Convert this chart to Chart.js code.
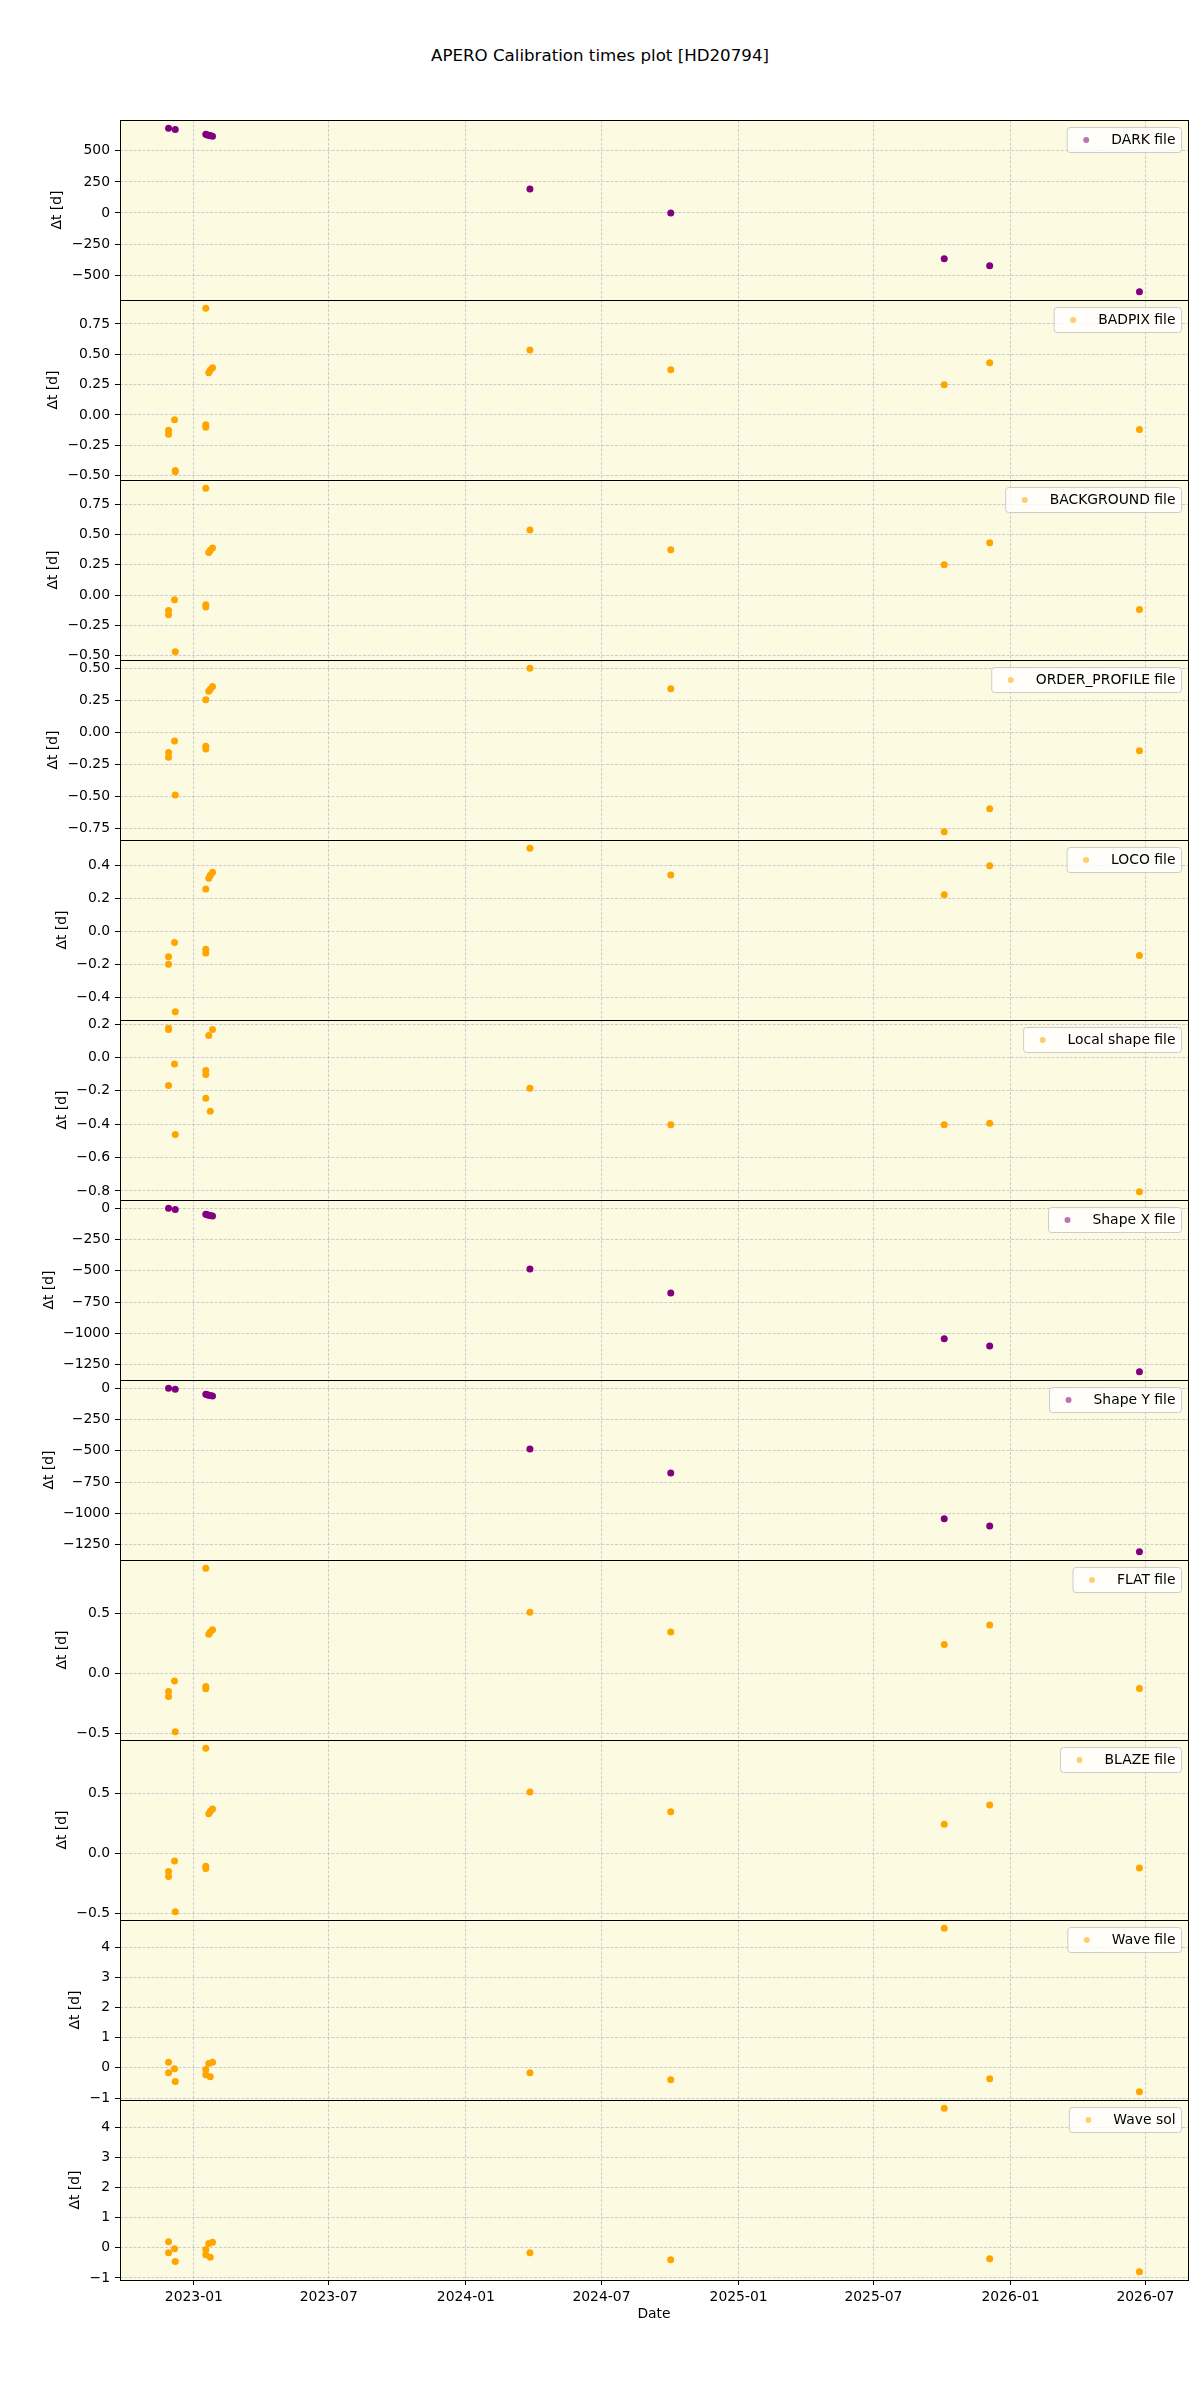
<!DOCTYPE html>
<html>
<head>
<meta charset="utf-8">
<title>APERO Calibration times plot [HD20794]</title>
<script src="https://cdn.jsdelivr.net/npm/chart.js@4.4.0/dist/chart.umd.min.js"></script>
<style>
  html, body { margin: 0; padding: 0; background: #fff; }
  #page { position: relative; width: 1200px; height: 2400px; font-family: "DejaVu Sans", sans-serif; }
  #title { position: absolute; left: 0; top: 46px; width: 1200px; text-align: center;
           font-size: 16.67px; line-height: 20px; color: #000; }
  canvas { position: absolute; left: 0; }
</style>
</head>
<body>
<div id="page">
  <div id="title">APERO Calibration times plot [HD20794]</div>
</div>
<script>
// date ticks shared by every panel
const xTickLabels = ["2023-01", "2023-07", "2024-01", "2024-07", "2025-01", "2025-07", "2026-01", "2026-07"];

// [date, delta t in days]
const darkFile = [
  ["2022-11-28", 682], ["2022-12-07", 671], ["2023-01-17", 634], ["2023-01-19", 628],
  ["2023-01-21", 626], ["2023-01-23", 623], ["2023-01-26", 618], ["2024-03-27", 192],
  ["2024-10-02", 0], ["2025-10-04", -369], ["2025-12-04", -425], ["2026-06-23", -634]
];
const badpixFile = [
  ["2022-11-28", -0.127], ["2022-11-28", -0.160], ["2022-12-06", -0.039], ["2022-12-07", -0.458],
  ["2022-12-07", -0.469], ["2023-01-17", 0.880], ["2023-01-17", -0.080], ["2023-01-17", -0.102],
  ["2023-01-21", 0.348], ["2023-01-23", 0.370], ["2023-01-26", 0.389], ["2024-03-27", 0.535],
  ["2024-10-02", 0.372], ["2025-10-04", 0.248], ["2025-12-04", 0.430], ["2026-06-23", -0.121]
];
const backgroundFile = [
  ["2022-11-28", -0.127], ["2022-11-28", -0.163], ["2022-12-06", -0.039], ["2022-12-07", -0.468],
  ["2023-01-17", 0.881], ["2023-01-17", -0.080], ["2023-01-17", -0.099], ["2023-01-21", 0.351],
  ["2023-01-23", 0.370], ["2023-01-26", 0.387], ["2024-03-27", 0.536], ["2024-10-02", 0.373],
  ["2025-10-04", 0.249], ["2025-12-04", 0.431], ["2026-06-23", -0.119]
];
const orderProfileFile = [
  ["2022-11-28", -0.154], ["2022-11-28", -0.191], ["2022-12-06", -0.065], ["2022-12-07", -0.486],
  ["2023-01-17", 0.259], ["2023-01-17", -0.105], ["2023-01-17", -0.126], ["2023-01-21", 0.324],
  ["2023-01-23", 0.340], ["2023-01-26", 0.361], ["2024-03-27", 0.505], ["2024-10-02", 0.345],
  ["2025-10-04", -0.774], ["2025-12-04", -0.594], ["2026-06-23", -0.141]
];
const locoFile = [
  ["2022-11-28", -0.152], ["2022-11-28", -0.197], ["2022-12-06", -0.066], ["2022-12-07", -0.486],
  ["2023-01-17", 0.260], ["2023-01-17", -0.107], ["2023-01-17", -0.129], ["2023-01-21", 0.324],
  ["2023-01-23", 0.343], ["2023-01-26", 0.361], ["2024-03-27", 0.507], ["2024-10-02", 0.345],
  ["2025-10-04", 0.224], ["2025-12-04", 0.400], ["2026-06-23", -0.144]
];
const localShapeFile = [
  ["2022-11-28", 0.175], ["2022-11-28", 0.167], ["2022-11-28", -0.169], ["2022-12-06", -0.040],
  ["2022-12-07", -0.461], ["2023-01-17", -0.078], ["2023-01-17", -0.103], ["2023-01-17", -0.245],
  ["2023-01-21", 0.131], ["2023-01-23", -0.322], ["2023-01-26", 0.167], ["2024-03-27", -0.185],
  ["2024-10-02", -0.404], ["2025-10-04", -0.404], ["2025-12-04", -0.394], ["2026-06-23", -0.805]
];
const shapeXFile = [
  ["2022-11-28", 0], ["2022-12-07", -10], ["2023-01-17", -48], ["2023-01-19", -53],
  ["2023-01-21", -56], ["2023-01-23", -58], ["2023-01-26", -63], ["2024-03-27", -486],
  ["2024-10-02", -677], ["2025-10-04", -1043], ["2025-12-04", -1099], ["2026-06-23", -1306]
];
const shapeYFile = [
  ["2022-11-28", 0], ["2022-12-07", -9], ["2023-01-17", -48], ["2023-01-19", -53],
  ["2023-01-21", -56], ["2023-01-23", -58], ["2023-01-26", -63], ["2024-03-27", -486],
  ["2024-10-02", -677], ["2025-10-04", -1043], ["2025-12-04", -1099], ["2026-06-23", -1306]
];
const flatFile = [
  ["2022-11-28", -0.148], ["2022-11-28", -0.190], ["2022-12-06", -0.061], ["2022-12-07", -0.483],
  ["2023-01-17", 0.877], ["2023-01-17", -0.106], ["2023-01-17", -0.126], ["2023-01-21", 0.327],
  ["2023-01-23", 0.347], ["2023-01-26", 0.366], ["2024-03-27", 0.511], ["2024-10-02", 0.346],
  ["2025-10-04", 0.243], ["2025-12-04", 0.405], ["2026-06-23", -0.123]
];
const blazeFile = [
  ["2022-11-28", -0.148], ["2022-11-28", -0.190], ["2022-12-06", -0.061], ["2022-12-07", -0.483],
  ["2023-01-17", 0.874], ["2023-01-17", -0.106], ["2023-01-17", -0.123], ["2023-01-21", 0.330],
  ["2023-01-23", 0.350], ["2023-01-26", 0.369], ["2024-03-27", 0.511], ["2024-10-02", 0.346],
  ["2025-10-04", 0.243], ["2025-12-04", 0.402], ["2026-06-23", -0.120]
];
const waveFile = [
  ["2022-11-28", 0.187], ["2022-11-28", -0.165], ["2022-12-06", -0.033], ["2022-12-07", -0.452],
  ["2023-01-17", -0.055], ["2023-01-17", -0.231], ["2023-01-21", 0.143], ["2023-01-23", -0.297],
  ["2023-01-26", 0.187], ["2024-03-27", -0.165], ["2024-10-02", -0.396], ["2025-10-04", 4.626],
  ["2025-12-04", -0.363], ["2026-06-23", -0.793]
];
const waveSol = [
  ["2022-11-28", 0.199], ["2022-11-28", -0.166], ["2022-12-06", -0.033], ["2022-12-07", -0.453],
  ["2023-01-17", -0.055], ["2023-01-17", -0.232], ["2023-01-21", 0.143], ["2023-01-23", -0.309],
  ["2023-01-26", 0.188], ["2024-03-27", -0.166], ["2024-10-02", -0.397], ["2025-10-04", 4.636],
  ["2025-12-04", -0.364], ["2026-06-23", -0.795]
];

// y tick labels per panel
const ticksDark = ["−500", "−250", "0", "250", "500"];
const ticksQuarter = ["−0.50", "−0.25", "0.00", "0.25", "0.50", "0.75"];
const ticksOrder = ["−0.75", "−0.50", "−0.25", "0.00", "0.25", "0.50"];
const ticksLoco = ["−0.4", "−0.2", "0.0", "0.2", "0.4"];
const ticksLocal = ["−0.8", "−0.6", "−0.4", "−0.2", "0.0", "0.2"];
const ticksShape = ["−1250", "−1000", "−750", "−500", "−250", "0"];
const ticksHalf = ["−0.5", "0.0", "0.5"];
const ticksWave = ["−1", "0", "1", "2", "3", "4"];

const PURPLE = "#800080";
const ORANGE = "#ffa500";
const BG = "#fcfbe2";
const GRID = "rgba(190,190,200,0.75)";
const FONT = "DejaVu Sans";

const panels = [
  { label: "DARK file", pts: darkFile, ticks: ticksDark, color: PURPLE },
  { label: "BADPIX file", pts: badpixFile, ticks: ticksQuarter, color: ORANGE },
  { label: "BACKGROUND file", pts: backgroundFile, ticks: ticksQuarter, color: ORANGE },
  { label: "ORDER_PROFILE file", pts: orderProfileFile, ticks: ticksOrder, color: ORANGE },
  { label: "LOCO file", pts: locoFile, ticks: ticksLoco, color: ORANGE },
  { label: "Local shape file", pts: localShapeFile, ticks: ticksLocal, color: ORANGE },
  { label: "Shape X file", pts: shapeXFile, ticks: ticksShape, color: PURPLE },
  { label: "Shape Y file", pts: shapeYFile, ticks: ticksShape, color: PURPLE },
  { label: "FLAT file", pts: flatFile, ticks: ticksHalf, color: ORANGE },
  { label: "BLAZE file", pts: blazeFile, ticks: ticksHalf, color: ORANGE },
  { label: "Wave file", pts: waveFile, ticks: ticksWave, color: ORANGE },
  { label: "Wave sol", pts: waveSol, ticks: ticksWave, color: ORANGE }
];

const toNum = s => parseFloat(s.replace("−", "-"));
const xTicks = xTickLabels.map(l => Date.parse(l + "-01"));

// matplotlib style autoscale: 5% margin
function padRange(vals) {
  const lo = Math.min(...vals), hi = Math.max(...vals);
  const m = (hi - lo) * 0.05;
  return [lo - m, hi + m];
}
const allDates = panels.flatMap(p => p.pts.map(d => Date.parse(d[0])));
const [xMin, xMax] = padRange(allDates);

function withAlpha(hex, a) {
  const n = parseInt(hex.slice(1), 16);
  return `rgba(${n >> 16},${(n >> 8) & 255},${n & 255},${a})`;
}

const panelDecor = {
  id: "panelDecor",
  beforeDraw(chart) {
    const { ctx, chartArea: a } = chart;
    ctx.save();
    ctx.fillStyle = BG;
    ctx.fillRect(a.left, a.top, a.right - a.left, a.bottom - a.top);
    ctx.restore();
  },
  afterDraw(chart, args, opts) {
    const { ctx, chartArea: a } = chart;
    ctx.save();
    ctx.strokeStyle = "#000";
    ctx.lineWidth = 1;
    ctx.strokeRect(a.left + 0.5, a.top + 0.5, a.right - a.left, a.bottom - a.top);

    // legend box, upper right
    ctx.font = `13.9px "${FONT}"`;
    const tw = ctx.measureText(opts.label).width;
    const w = tw + 50, h = 25;
    const lx = a.right - 7 - w, ly = a.top + 7;
    ctx.beginPath();
    ctx.roundRect(lx + 0.5, ly + 0.5, w, h, 3);
    ctx.fillStyle = "rgba(255,255,255,0.8)";
    ctx.fill();
    ctx.strokeStyle = "#cccccc";
    ctx.stroke();
    ctx.beginPath();
    ctx.arc(lx + 19.5, ly + h / 2 + 0.5, 3, 0, Math.PI * 2);
    ctx.fillStyle = withAlpha(opts.color, 0.55);
    ctx.fill();
    ctx.fillStyle = "#000";
    ctx.textBaseline = "middle";
    ctx.textAlign = "left";
    ctx.fillText(opts.label, lx + 44.5, ly + h / 2 + 1);

    // y axis label next to the tick labels
    let maxW = 0;
    chart.scales.y.ticks.forEach(t => { maxW = Math.max(maxW, ctx.measureText(t.label).width); });
    const cx = a.left - 10 - maxW - 14;
    ctx.translate(cx, (a.top + a.bottom) / 2);
    ctx.rotate(-Math.PI / 2);
    ctx.textAlign = "center";
    ctx.fillText("Δt [d]", 0, 0);
    ctx.restore();
  }
};

Chart.defaults.font.family = FONT;
Chart.defaults.font.size = 13.9;
Chart.defaults.color = "#000";

const page = document.getElementById("page");
panels.forEach((p, i) => {
  const last = i === panels.length - 1;
  const canvas = document.createElement("canvas");
  const h = last ? 232 : 184;
  canvas.width = 1200;
  canvas.height = h;
  canvas.style.top = (120 + 180 * i - 2) + "px";
  canvas.style.width = "1200px";
  canvas.style.height = h + "px";
  page.appendChild(canvas);

  const yVals = p.ticks.map(toNum);
  const [yMin, yMax] = padRange(p.pts.map(d => d[1]));

  new Chart(canvas, {
    type: "scatter",
    data: {
      datasets: [{
        label: p.label,
        data: p.pts.map(d => ({ x: Date.parse(d[0]), y: d[1] })),
        backgroundColor: p.color,
        borderWidth: 0,
        pointRadius: 3.5,
        pointHoverRadius: 3.5
      }]
    },
    options: {
      responsive: false,
      animation: false,
      events: [],
      layout: { autoPadding: false, padding: { left: 0, right: 12, top: 2, bottom: last ? 0 : 2 } },
      plugins: {
        legend: { display: false },
        tooltip: { enabled: false },
        panelDecor: { label: p.label, color: p.color }
      },
      scales: {
        x: {
          type: "linear",
          min: xMin,
          max: xMax,
          afterBuildTicks: s => { s.ticks = xTicks.map(v => ({ value: v })); },
          afterFit: s => {
            s.height = last ? 50 : 0;
            s.paddingLeft = 0;
            s.paddingRight = 0;
          },
          ticks: {
            display: last,
            autoSkip: false,
            maxRotation: 0,
            padding: 4,
            callback: (v, idx) => xTickLabels[idx]
          },
          grid: { color: GRID, drawTicks: last, tickLength: 5, tickColor: "#000", tickBorderDash: [] },
          border: { display: false, dash: [3, 1.5] },
          title: { display: last, text: "Date", padding: { top: 0, bottom: 7 } }
        },
        y: {
          min: yMin,
          max: yMax,
          afterBuildTicks: s => { s.ticks = yVals.map(v => ({ value: v })); },
          afterFit: s => {
            s.width = 120;
            s.paddingTop = 0;
            s.paddingBottom = 0;
          },
          ticks: { autoSkip: false, padding: 5, callback: (v, idx) => p.ticks[idx] },
          grid: { color: GRID, tickLength: 5, tickColor: "#000", tickBorderDash: [] },
          border: { display: false, dash: [3, 1.5] }
        }
      }
    },
    plugins: [panelDecor]
  });
});
</script>
</body>
</html>
